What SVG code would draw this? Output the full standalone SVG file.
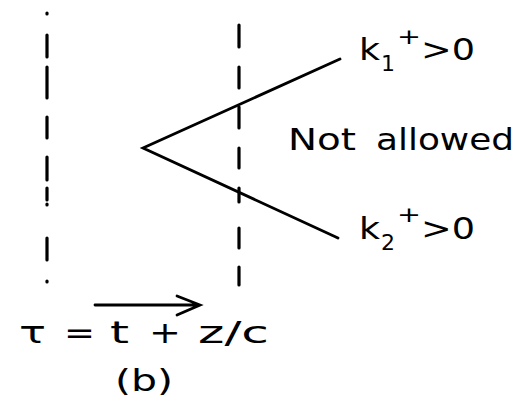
<svg xmlns="http://www.w3.org/2000/svg" width="514" height="408" viewBox="0 0 514 408">
<style>
.t{font-family:"DejaVu Sans",sans-serif;fill:#000}
.big{font-size:30px}
.sub{font-size:22px}
.dash{stroke:#000;stroke-width:3.2;stroke-linecap:round;fill:none}
.ln{stroke:#000;stroke-width:2.8;fill:none;stroke-linecap:round;stroke-linejoin:miter}
</style>
<rect width="514" height="408" fill="#fff"/>
<g id="boundary-left">
<path class="dash" d="M47 13v1M47 35v22M47 67v31M47 117v21M47 157v23M47 188v12M47 204v1M47 238v22M47 281v1"/>
</g>
<g id="boundary-right">
<path class="dash" d="M239 25v22M239 67v21M239 107v21M239 148v20M239 188v14M239 228v20M239 267v18"/>
</g>
<g id="connectors">
<path class="ln" d="M340 59L143 148L338 238"/>
<path class="ln" d="M95 305H199M177 296L200 305L177 315"/>
</g>
<g id="k1">
<text class="t big" x="359" y="60" textLength="21" lengthAdjust="spacingAndGlyphs">k</text>
<text class="t sub" x="381" y="71">1</text>
<text class="t sub" x="397" y="44" textLength="24" lengthAdjust="spacingAndGlyphs">+</text>
<text class="t big" x="421" y="60" textLength="54" lengthAdjust="spacingAndGlyphs">&gt;0</text>
</g>
<g id="k2">
<text class="t big" x="359" y="239" textLength="21" lengthAdjust="spacingAndGlyphs">k</text>
<text class="t sub" x="381" y="250">2</text>
<text class="t sub" x="397" y="222" textLength="24" lengthAdjust="spacingAndGlyphs">+</text>
<text class="t big" x="421" y="239" textLength="54" lengthAdjust="spacingAndGlyphs">&gt;0</text>
</g>
<g id="not-allowed">
<text class="t big" x="288" y="150" textLength="68" lengthAdjust="spacingAndGlyphs">Not</text>
<text class="t big" x="376" y="150" textLength="138" lengthAdjust="spacingAndGlyphs">allowed</text>
</g>
<g id="equation">
<text class="t big" x="19" y="343" textLength="27" lengthAdjust="spacingAndGlyphs">τ</text>
<text class="t big" x="64" y="343" textLength="31" lengthAdjust="spacingAndGlyphs">=</text>
<text class="t big" x="110" y="343" textLength="19" lengthAdjust="spacingAndGlyphs">t</text>
<text class="t big" x="149" y="343" textLength="32" lengthAdjust="spacingAndGlyphs">+</text>
<text class="t big" x="198" y="343" textLength="71" lengthAdjust="spacingAndGlyphs">z/c</text>
<text class="t big" x="115" y="391" textLength="58" lengthAdjust="spacingAndGlyphs">(b)</text>
</g>
</svg>
